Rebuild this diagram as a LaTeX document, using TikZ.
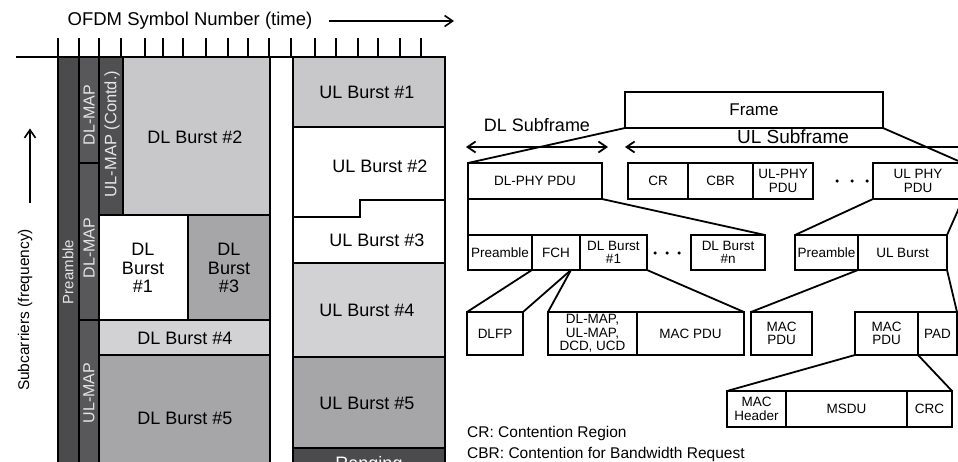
\documentclass[tikz,border=0pt]{standalone}
\usepackage{fontspec}
\setmainfont{Liberation Sans}
\usepackage{xcolor}
\usepackage{tikz}
\usetikzlibrary{positioning, arrows.meta}
\definecolor{pregray}{HTML}{4B4B4D}
\definecolor{mapgray}{HTML}{58585A}
\definecolor{contdgray}{HTML}{505052}
\definecolor{burstlight}{HTML}{C8C8CA}
\definecolor{burstpale}{HTML}{D2D2D4}
\definecolor{burstmid}{HTML}{A6A6A8}
\tikzset{
  slot/.style     = {draw=black, line width=2pt},
  burstlbl/.style = {font=\fontsize{18}{18.5}\selectfont, align=center, inner sep=0pt},
  collbl/.style   = {rotate=90, text=white!90!black, inner sep=0pt,
                     font=\fontsize{16}{16}\selectfont},
  pdubox/.style   = {draw, line width=1.8pt, anchor=north west, inner sep=0pt,
                     outer sep=0pt, minimum width=#1, align=center,
                     font=\fontsize{13.5}{13.5}\selectfont},
  rowa/.style     = {minimum height=36pt},
  rowb/.style     = {minimum height=35pt},
  rowc/.style     = {minimum height=43pt},
  subdot/.style   = {circle, fill=black, inner sep=0pt, minimum size=3.5pt},
  link/.style     = {line width=1.8pt},
  >={Straight Barb[length=8pt, width=11pt]}
}
\begin{document}
\begin{tikzpicture}[x=1pt, y=-1pt]
  \useasboundingbox (0,0) rectangle (958,461);
  \clip (0,0) rectangle (958,461);

  % Time axis
  \node[font=\fontsize{18.5}{19}\selectfont] (ofdm) at (190,21) {OFDM Symbol Number (time)};
  \coordinate (timeend) at (454,21);
  \draw[->, line width=1.6pt] ([xshift=13pt]ofdm.east) -- (timeend);
  \draw[line width=2pt] (16,57) -- (445,57);
  \foreach \x in {58,79,99,121,145,163,183,206,228,248,269,291,315,336,358,378,400,421}
    \draw[line width=2.2pt] (\x,38) -- (\x,57);

  % Frequency axis
  \node[rotate=90, font=\fontsize{15.5}{16}\selectfont] (freq) at (25,310) {Subcarriers (frequency)};
  \draw[->, line width=1.6pt] ([xshift=5pt, yshift=22pt]freq.east) -- ([xshift=5pt, yshift=97pt]freq.east);

  % DL subframe
  \filldraw[slot, fill=pregray] (58,57) rectangle (79,470);
  \filldraw[slot, fill=mapgray] (79,57) rectangle (99,163);
  \filldraw[slot, fill=mapgray] (79,163) rectangle (99,320);
  \filldraw[slot, fill=mapgray] (79,320) rectangle (99,470);
  \filldraw[slot, fill=contdgray] (99,57) rectangle (123,215);
  \filldraw[slot, fill=burstlight] (123,57) rectangle (270,215);
  \filldraw[slot, fill=white] (99,215) rectangle (188,320);
  \filldraw[slot, fill=burstmid] (188,215) rectangle (270,320);
  \filldraw[slot, fill=burstpale] (99,320) rectangle (270,355);
  \filldraw[slot, fill=burstmid] (99,355) rectangle (270,470);

  \node[collbl, font=\fontsize{15}{15}\selectfont] (pream) at (68,272) {Preamble};
  \node[collbl] (dlmapa) at (89,115) {DL-MAP};
  \node[collbl] (dlmapb) at (89,248) {DL-MAP};
  \node[collbl] (ulmapa) at (89,393) {UL-MAP};
  \node[collbl, font=\fontsize{16.5}{17}\selectfont] (ulmapc) at (112,134) {UL-MAP (Contd.)};

  \node[burstlbl] (dlbtwo) at (195,137) {DL Burst \#2};
  \node[burstlbl] (dlbonel) at (143,268) {DL\\Burst\\\#1};
  \node[burstlbl] (dlbthree) at (229,268) {DL\\Burst\\\#3};
  \node[burstlbl] (dlbfour) at (185,338) {DL Burst \#4};
  \node[burstlbl] (dlbfive) at (185,418) {DL Burst \#5};

  % UL subframe
  \filldraw[slot, fill=burstlight] (293,57) rectangle (445,127);
  \filldraw[slot, fill=white] (293,127) -- (445,127) -- (445,200) -- (360,200)
    -- (360,217) -- (293,217) -- cycle;
  \filldraw[slot, fill=white] (293,217) -- (360,217) -- (360,200) -- (445,200)
    -- (445,263) -- (293,263) -- cycle;
  \filldraw[slot, fill=burstpale] (293,263) rectangle (445,357);
  \filldraw[slot, fill=burstmid] (293,357) rectangle (445,448);
  \filldraw[slot, fill=pregray] (293,448) rectangle (445,470);
  \draw[slot] (270,57) -- (270,470);

  \node[burstlbl] (ulbone) at (367,92) {UL Burst \#1};
  \node[burstlbl] (ulbtwo) at (380,166) {UL Burst \#2};
  \node[burstlbl] (ulbthree) at (377,240) {UL Burst \#3};
  \node[burstlbl] (ulbfour) at (367,310) {UL Burst \#4};
  \node[burstlbl] (ulbfive) at (367,403) {UL Burst \#5};
  \node[burstlbl, text=white] (ranging) at (369,465) {Ranging};

  % Frame structure
  \node[pdubox=258pt, minimum height=36pt, font=\fontsize{17}{17}\selectfont] (frame) at (625,92) {Frame};
  \node[font=\fontsize{18}{18}\selectfont] (dlsub) at (537,125) {DL Subframe};
  \node[font=\fontsize{19}{19}\selectfont] (ulsub) at (793,137) {UL Subframe};
  \coordinate (dlsubl) at (466,147);
  \coordinate (dlsubr) at (608,147);
  \coordinate (ulsubl) at (625,147);
  \coordinate (ulsubr) at (966,147);
  \draw[<->, link] (dlsubl) -- (dlsubr);
  \draw[<-, link] (ulsubl) -- (ulsubr);

  \node[pdubox=134pt, rowa] (dlphy) at (468,163) {DL-PHY PDU};
  \node[pdubox=60pt, rowa] (cr) at (628,163) {CR};
  \node[pdubox=65pt, rowa] (cbr) at (cr.north east) {CBR};
  \node[pdubox=60pt, rowa] (ulphya) at (cbr.north east) {UL-PHY\\PDU};
  \node[pdubox=90pt, rowa] (ulphyb) at (873,163) {UL PHY\\PDU};
  \foreach \x/\n in {837/a,852/b,867/c}
    \node[subdot] (uld\n) at (\x,181) {};

  \node[pdubox=64pt, rowb] (dlpre) at (468,235) {Preamble};
  \node[pdubox=48pt, rowb] (fch) at (dlpre.north east) {FCH};
  \node[pdubox=67pt, rowb] (dlbone) at (fch.north east) {DL Burst\\\#1};
  \node[pdubox=74pt, rowb] (dlbn) at (691,235) {DL Burst\\\#n};
  \node[pdubox=63pt, rowb] (ulpre) at (795,235) {Preamble};
  \node[pdubox=89pt, rowb] (ulb) at (ulpre.north east) {UL Burst};
  \foreach \x/\n in {655/a,667/b,679/c}
    \node[subdot] (dld\n) at (\x,253) {};

  \node[pdubox=56pt, rowc] (dlfp) at (467,312) {DLFP};
  \node[pdubox=89pt, rowc] (maps) at (548,312) {DL-MAP,\\UL-MAP,\\DCD, UCD};
  \node[pdubox=107pt, rowc] (dlmac) at (maps.north east) {MAC PDU};
  \node[pdubox=61pt, rowc] (ulmaca) at (751,312) {MAC\\PDU};
  \node[pdubox=63pt, rowc] (ulmacb) at (855,312) {MAC\\PDU};
  \node[pdubox=39pt, rowc] (pad) at (ulmacb.north east) {PAD};

  \node[pdubox=59pt, rowa] (machdr) at (727,391) {MAC\\Header};
  \node[pdubox=121pt, rowa] (msdu) at (machdr.north east) {MSDU};
  \node[pdubox=45pt, rowa] (crc) at (msdu.north east) {CRC};

  % Expansion lines
  \draw[link] (frame.south west) -- (dlphy.north west);
  \draw[link] (frame.south east) -- (ulphyb.north east);
  \draw[link] (dlphy.south west) -- (dlpre.north west);
  \draw[link] (dlphy.south east) -- (dlbn.north east);
  \draw[link] (ulphyb.south west) -- (ulpre.north west);
  \draw[link] (ulphyb.south east) -- (ulb.north east);
  \coordinate (fchfoot) at ([xshift=-9pt]fch.south east);
  \draw[link] (dlpre.south east) -- (dlfp.north west);
  \draw[link] (fchfoot) -- (dlfp.north east);
  \draw[link] (fchfoot) -- (maps.north west);
  \draw[link] (dlbone.south east) -- (dlmac.north east);
  \draw[link] (ulb.south west) -- (ulmaca.north west);
  \draw[link] (ulb.south east) -- (pad.north east);
  \draw[link] (ulmacb.south west) -- (machdr.north west);
  \draw[link] (ulmacb.south east) -- (crc.north east);

  % Legend
  \node[anchor=west, inner sep=0pt, font=\fontsize{15.5}{16}\selectfont] (legcr) at (467,433) {CR: Contention Region};
  \node[anchor=west, inner sep=0pt, font=\fontsize{15.5}{16}\selectfont] (legcbr) at (467,454) {CBR: Contention for Bandwidth Request};
\end{tikzpicture}
\end{document}
